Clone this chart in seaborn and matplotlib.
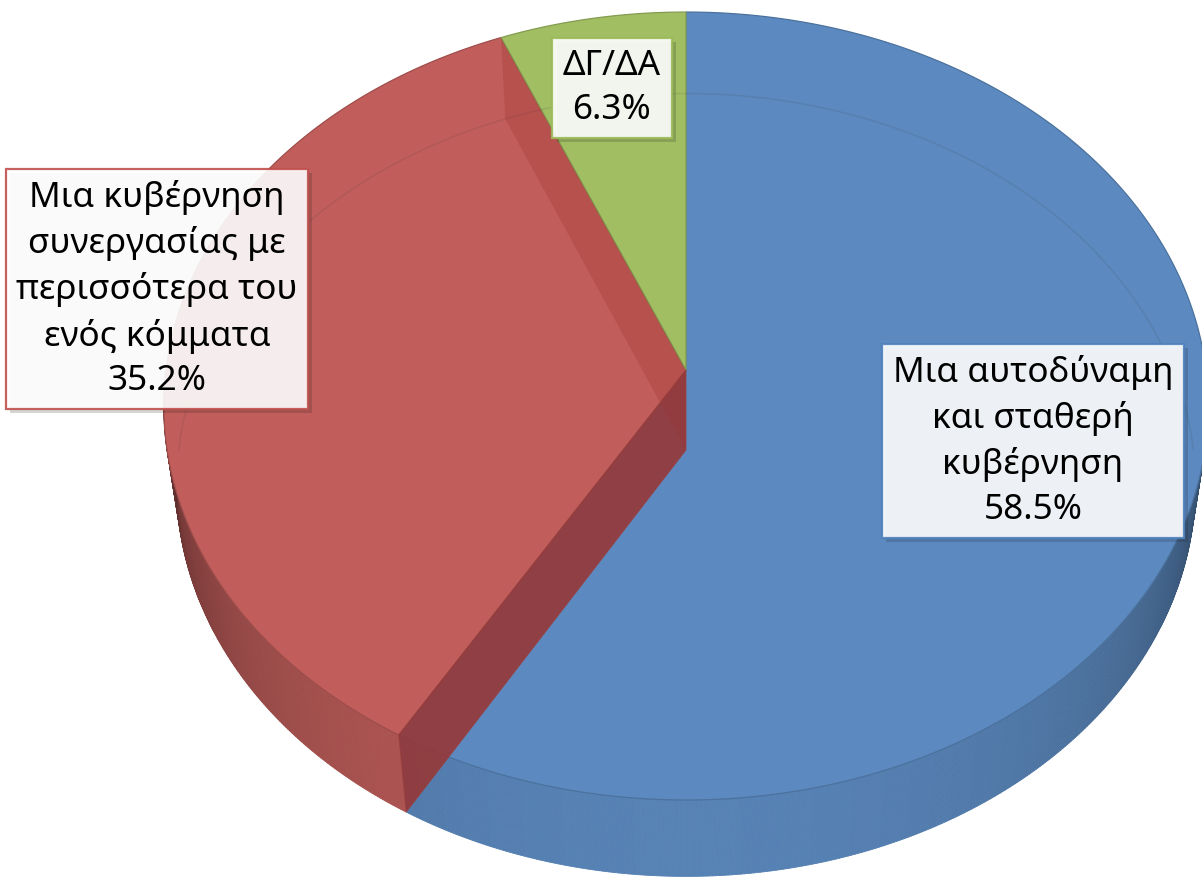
import numpy as np
import matplotlib
matplotlib.use("Agg")
import matplotlib.pyplot as plt
import seaborn as sns
from matplotlib.patches import Polygon
from matplotlib.collections import PolyCollection
from matplotlib import patheffects as pe

# ---------------- data ----------------
categories = ["Μια αυτοδύναμη\nκαι σταθερή\nκυβέρνηση",
              "Μια κυβέρνηση\nσυνεργασίας με\nπερισσότερα του\nενός κόμματα",
              "ΔΓ/ΔΑ"]
values = [58.5, 35.2, 6.3]
top_colors = ["#5C8AC0", "#C15E5B", "#A1BE63"]
edge_colors = ["#4F81BD", "#C0504D", "#9BBB59"]
label_xy = [(1033, 441), (157, 289), (612, 88)]   # label box centres (pixels)

sns.set_theme(style="white")
plt.rcParams['font.family'] = ['Noto Sans', 'DejaVu Sans']

W, Hpx = 1202, 881
fig = plt.figure(figsize=(W / 100, Hpx / 100), dpi=100)
ax = fig.add_axes([0, 0, 1, 1])
ax.set_xlim(0, W)
ax.set_ylim(Hpx, 0)
ax.axis("off")

# ---------------- 3D projection ----------------
CX, CY, R = 686, 370, 520
SIN, COS = 0.7513, 0.66
DIST = 7.22
THICK = 0.239


def proj(theta_deg, r=1.0, y=0.0):
    t = np.radians(theta_deg)
    X = r * np.sin(t)
    Z = -r * np.cos(t)
    ys = y * COS - Z * SIN
    zc = Z * COS + y * SIN
    s = 1.0 / (1.0 - zc / DIST)
    return np.column_stack([np.atleast_1d(CX + R * X * s), np.atleast_1d(CY - R * ys * s)])


total = sum(values)
angles = np.cumsum([0] + [v / total * 360 for v in values])
starts, ends = angles[:-1], angles[1:]


def rgb(c):
    return np.array(matplotlib.colors.to_rgb(c))


# ---------------- outer side walls (front half) ----------------
for st, en, col in zip(starts, ends, top_colors):
    lo, hi = max(st, 90), min(en, 270)
    if hi <= lo:
        continue
    th = np.linspace(lo, hi, int((hi - lo) * 3) + 2)
    quads, cols = [], []
    base = rgb(col)
    for a, b in zip(th[:-1], th[1:]):
        q = np.vstack([proj(a), proj(b), proj(b, 1, -THICK), proj(a, 1, -THICK)])
        quads.append(q)
        m = (a + b) / 2
        Z = max(-np.cos(np.radians(m)), 0)
        f = 0.28 + 0.66 * Z ** 0.55
        cols.append(np.clip(base * f, 0, 1))
    pc = PolyCollection(quads, facecolors=cols, edgecolors=cols, linewidths=0.6, zorder=1)
    ax.add_collection(pc)

# ---------------- top faces ----------------
centre = proj(0, 0, 0)
for st, en, col in zip(starts, ends, top_colors):
    th = np.linspace(st, en, int((en - st) * 3) + 2)
    pts = np.vstack([centre, proj(th)])
    ax.add_patch(Polygon(pts, closed=True, facecolor=col, edgecolor=np.clip(rgb(col) * 0.82, 0, 1),
                         linewidth=0.9, zorder=2))

# faint hidden bottom rim seen through the slices
th = np.linspace(-90, 90, 400)
rim = proj(th, 1, -THICK)
ax.plot(rim[:, 0], rim[:, 1], color="#303030", alpha=0.10, lw=1.2, zorder=3)

# ---------------- radial walls of the red slice (semi-transparent) ----------------
def wall(theta):
    return np.vstack([proj(theta, 1, 0), proj(theta, 1, -THICK), proj(theta, 0, -THICK), proj(theta, 0, 0)])

ax.add_patch(Polygon(wall(ends[1]), closed=True, facecolor=(150 / 255, 45 / 255, 40 / 255), alpha=0.25,
                     edgecolor="none", zorder=4))
ax.add_patch(Polygon(wall(starts[1]), closed=True, facecolor=(154 / 255, 51 / 255, 48 / 255), alpha=0.85,
                     edgecolor=(0.6, 0.25, 0.25), linewidth=0.6, zorder=5))

# ---------------- labels ----------------
for cat, val, (lx, ly), ec in zip(categories, values, label_xy, edge_colors):
    t = ax.text(lx, ly, f"{cat}\n{val:.1f}%", ha="center", va="center", multialignment="center",
                fontsize=25.3, linespacing=1.42, color="black", zorder=10,
                bbox=dict(boxstyle="square,pad=0.3", facecolor="white", alpha=0.9,
                          edgecolor=ec, linewidth=1.6))
    t.get_bbox_patch().set_path_effects([pe.SimplePatchShadow(offset=(3, -3), shadow_rgbFace="k", alpha=0.18),
                                         pe.Normal()])

fig.savefig("out.png", dpi=100, facecolor="white")
